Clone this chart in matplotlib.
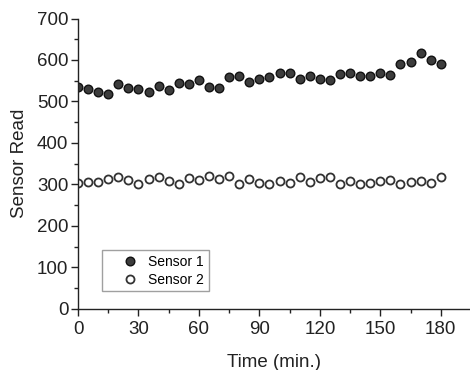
import matplotlib
matplotlib.use("Agg")
import matplotlib.pyplot as plt
import numpy as np
from matplotlib.ticker import MultipleLocator

plt.rcParams["font.family"] = ["Liberation Sans", "DejaVu Sans"]

# sampling times (min.)
time_min = list(range(0, 181, 5))

sensor1 = [
    534, 531, 522, 519, 543, 532, 530, 524, 538, 527,
    544, 541, 551, 535, 532, 559, 561, 546, 554, 559,
    569, 569, 553, 562, 553, 551, 566, 569, 561, 562,
    569, 564, 590, 594, 617, 600, 591,
]

sensor2 = [
    303, 307, 305, 313, 319, 311, 300, 313, 318, 308,
    301, 316, 311, 320, 312, 320, 300, 312, 303, 300,
    309, 304, 317, 306, 316, 317, 300, 308, 300, 303,
    309, 311, 300, 306, 308, 304, 317,
]

fig = plt.figure(figsize=(4.7, 3.7), dpi=100)
ax = fig.add_axes([0.166, 0.165, 0.834, 0.785])

ax.plot(
    time_min, sensor1, "o", linestyle="none",
    markersize=6.2, markerfacecolor="#3c3c3c",
    markeredgecolor="#111111", markeredgewidth=1.0,
    label="Sensor 1",
)
ax.plot(
    time_min, sensor2, "o", linestyle="none",
    markersize=5.8, markerfacecolor="white",
    markeredgecolor="#333333", markeredgewidth=1.3,
    label="Sensor 2",
)

ax.set_xlim(0, 194.5)
ax.set_ylim(0, 700)
ax.xaxis.set_major_locator(MultipleLocator(30))
ax.xaxis.set_minor_locator(MultipleLocator(15))
ax.yaxis.set_major_locator(MultipleLocator(100))
ax.yaxis.set_minor_locator(MultipleLocator(50))

ax.spines["top"].set_visible(False)
ax.spines["right"].set_visible(False)
for side in ["left", "bottom"]:
    ax.spines[side].set_color("#222222")
    ax.spines[side].set_linewidth(1.0)

ax.tick_params(which="major", direction="out", length=5, width=1,
               labelsize=13.5, colors="#222222", pad=2)
ax.tick_params(axis="x", which="major", pad=4)
ax.tick_params(which="minor", direction="out", length=3, width=1,
               colors="#222222")

ax.set_xlabel("Time (min.)", fontsize=13.5, color="#222222", labelpad=11)
ax.set_ylabel("Sensor Read", fontsize=13.5, color="#222222", labelpad=6)

leg = ax.legend(
    loc="lower left", bbox_to_anchor=(0.061, 0.062),
    fontsize=10, frameon=True, fancybox=False,
    handletextpad=-0.35, borderpad=0.3, labelspacing=0.3,
    handlelength=3.4, borderaxespad=0,
)
leg.get_frame().set_edgecolor("#888888")
leg.get_frame().set_linewidth(1.0)

fig.savefig("out.png", dpi=100)
